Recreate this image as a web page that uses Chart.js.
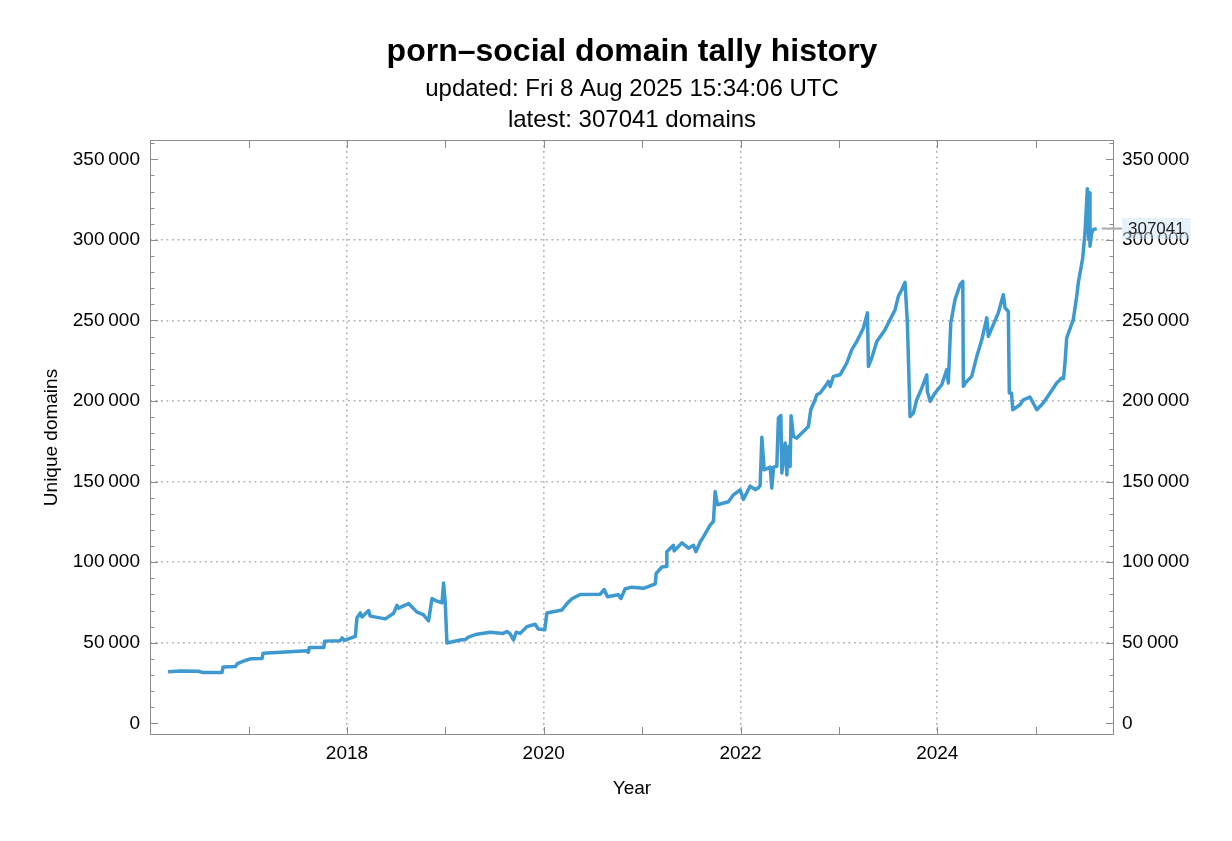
<!DOCTYPE html>
<html>
<head>
<meta charset="utf-8">
<title>porn–social domain tally history</title>
<script src="https://cdn.jsdelivr.net/npm/chart.js@4.4.1/dist/chart.umd.min.js"></script>
<style>
  html, body { margin: 0; padding: 0; background: #fff; }
  canvas { display: block; }
</style>
</head>
<body>
<canvas id="tally" width="1232" height="841"></canvas>
<script>
// decimal year of each sample
const years = [
  2016.182, 2016.307, 2016.490, 2016.530, 2016.730, 2016.741, 2016.866, 2016.886, 2016.967, 2017.018,
  2017.137, 2017.147, 2017.374, 2017.594, 2017.607, 2017.617, 2017.765, 2017.773, 2017.932, 2017.950,
  2017.973, 2018.085, 2018.102, 2018.136, 2018.153, 2018.220, 2018.237, 2018.390, 2018.474, 2018.508,
  2018.525, 2018.626, 2018.712, 2018.776, 2018.829, 2018.864, 2018.915, 2018.966, 2018.982, 2018.999,
  2019.016, 2019.151, 2019.202, 2019.233, 2019.321, 2019.456, 2019.588, 2019.626, 2019.659, 2019.693,
  2019.720, 2019.761, 2019.829, 2019.913, 2019.944, 2020.010, 2020.032, 2020.185, 2020.236, 2020.286,
  2020.371, 2020.574, 2020.614, 2020.648, 2020.760, 2020.784, 2020.828, 2020.896, 2021.014, 2021.133,
  2021.143, 2021.201, 2021.244, 2021.251, 2021.318, 2021.326, 2021.404, 2021.471, 2021.522, 2021.546,
  2021.590, 2021.623, 2021.691, 2021.725, 2021.742, 2021.765, 2021.877, 2021.928, 2021.996, 2022.030,
  2022.098, 2022.149, 2022.179, 2022.199, 2022.217, 2022.240, 2022.301, 2022.318, 2022.336, 2022.369,
  2022.385, 2022.410, 2022.420, 2022.453, 2022.471, 2022.487, 2022.504, 2022.514, 2022.538, 2022.572,
  2022.639, 2022.690, 2022.714, 2022.758, 2022.775, 2022.809, 2022.860, 2022.893, 2022.911, 2022.944,
  2023.012, 2023.080, 2023.131, 2023.182, 2023.249, 2023.290, 2023.300, 2023.334, 2023.385, 2023.469,
  2023.571, 2023.604, 2023.639, 2023.672, 2023.696, 2023.723, 2023.757, 2023.791, 2023.842, 2023.893,
  2023.899, 2023.927, 2023.977, 2024.045, 2024.096, 2024.112, 2024.137, 2024.180, 2024.231, 2024.259,
  2024.265, 2024.299, 2024.350, 2024.401, 2024.452, 2024.503, 2024.519, 2024.570, 2024.620, 2024.671,
  2024.689, 2024.722, 2024.732, 2024.754, 2024.767, 2024.841, 2024.874, 2024.942, 2025.011, 2025.077,
  2025.146, 2025.214, 2025.264, 2025.283, 2025.298, 2025.315, 2025.382, 2025.417, 2025.433, 2025.478,
  2025.501, 2025.525, 2025.539, 2025.545, 2025.552, 2025.569, 2025.586, 2025.620
];

// unique domains at each sample
const domains = [
  32000, 32500, 32300, 31600, 31500, 35000, 35200, 37000, 39000, 40000,
  40200, 43500, 44200, 45000, 44000, 47000, 47000, 51000, 51300, 53000,
  51500, 54000, 65500, 68500, 66000, 70000, 66500, 64800, 68300, 73200,
  71500, 74300, 69000, 67500, 63500, 77500, 75800, 74800, 87000, 74500,
  49800, 51700, 52000, 53500, 55300, 56500, 55800, 57000, 55500, 51700,
  56500, 55800, 60000, 61500, 58500, 58000, 68500, 70300, 74300, 77300,
  79900, 80100, 83000, 78500, 79800, 77500, 83500, 84500, 83800, 86500,
  93000, 97000, 97300, 106500, 110500, 107000, 112000, 108700, 110500, 106500,
  112500, 115700, 123000, 125400, 143900, 135600, 137500, 141800, 144900, 139000,
  147200, 145000, 146000, 147500, 177500, 157300, 159000, 146000, 159000, 159500,
  189500, 191000, 155300, 173900, 154200, 171800, 159400, 190900, 178000, 177000,
  181100, 184200, 194600, 200800, 203900, 205000, 209100, 212200, 209000, 215300,
  216300, 223600, 231900, 237000, 245300, 254700, 221500, 226700, 237000, 244300,
  256700, 265000, 269100, 273700, 248400, 190400, 192500, 200800, 208000, 216300,
  206000, 199800, 205000, 210100, 219400, 211200, 248400, 262900, 272200, 274300,
  209100, 212200, 215300, 227700, 238000, 251600, 240100, 247400, 254700, 266000,
  257800, 255600, 205000, 205000, 194600, 197700, 200800, 202500, 194600, 198800,
  205000, 211200, 214300, 214000, 223600, 239100, 250500, 265000, 273300, 288800,
  304300, 331700, 300200, 329200, 296000, 304300, 306400, 307041
];

const yearTicks = [2017, 2018, 2019, 2020, 2021, 2022, 2023, 2024, 2025];
const yearLabels = [2018, 2020, 2022, 2024];
const domainTicks = [0, 50000, 100000, 150000, 200000, 250000, 300000, 350000];

const LINE = "#3d99cf";
const FRAME = "#8c8c8c";
const GRID = "#b0b0b0";
const NONE = "rgba(0,0,0,0)";

Chart.defaults.font.family = "'Liberation Sans', Arial, sans-serif";
Chart.defaults.color = "#000";

function fmtThousands(v) {
  if (v < 1000) return String(v);
  return Math.floor(v / 1000) + "\u2009" + String(v % 1000).padStart(3, "0");
}

// Mathematica-like frame: box round the plot, ticks pointing inward, callout for the last value
const frameTicks = {
  id: "frameTicks",
  afterDraw(chart) {
    const { ctx, chartArea: a, scales } = chart;
    const xs = scales.x, ys = scales.y;
    ctx.save();
    ctx.strokeStyle = FRAME;
    ctx.lineWidth = 1;
    ctx.strokeRect(a.left + 0.5, a.top + 0.5, a.width - 1, a.height - 1);

    ctx.beginPath();
    yearTicks.forEach(v => {
      const px = Math.round(xs.getPixelForValue(v)) + 0.5;
      ctx.moveTo(px, a.bottom); ctx.lineTo(px, a.bottom - 8);
      ctx.moveTo(px, a.top); ctx.lineTo(px, a.top + 8);
    });
    for (let v = 0; v <= ys.max; v += 10000) {
      const len = v % 50000 === 0 ? 8 : 4.5;
      const py = Math.round(ys.getPixelForValue(v)) + 0.5;
      ctx.moveTo(a.left, py); ctx.lineTo(a.left + len, py);
      ctx.moveTo(a.right, py); ctx.lineTo(a.right - len, py);
    }
    ctx.stroke();

    // latest value callout
    const meta = chart.getDatasetMeta(0);
    const last = meta.data[meta.data.length - 1];
    const label = String(domains[domains.length - 1]);
    ctx.font = "17px 'Liberation Sans', Arial, sans-serif";
    const w = ctx.measureText(label).width + 12;
    const h = 21;
    const bx = a.right + 8;
    ctx.fillStyle = "rgba(205,228,250,0.5)";
    ctx.fillRect(bx, last.y - h / 2, w, h);
    ctx.strokeStyle = "#a8a8a8";
    ctx.lineWidth = 2;
    ctx.beginPath();
    ctx.moveTo(last.x + 5, last.y);
    ctx.lineTo(bx, last.y);
    ctx.stroke();
    ctx.fillStyle = "#222";
    ctx.textAlign = "left";
    ctx.textBaseline = "middle";
    ctx.fillText(label, bx + 6, last.y + 1);
    ctx.restore();
  }
};

new Chart(document.getElementById("tally"), {
  type: "line",
  data: {
    datasets: [{
      label: "Unique domains",
      data: years.map((yr, i) => ({ x: yr, y: domains[i] })),
      borderColor: LINE,
      borderWidth: 3.5,
      borderJoinStyle: "round",
      pointRadius: 0,
      tension: 0,
      fill: false
    }]
  },
  options: {
    responsive: false,
    animation: false,
    layout: { padding: 0 },
    plugins: {
      legend: { display: false },
      tooltip: { enabled: false },
      title: {
        display: true,
        fullSize: false,
        text: "porn–social domain tally history",
        font: { size: 32, weight: "bold", lineHeight: 1.2 },
        color: "#000",
        padding: { top: 32.8, bottom: 2.6 }
      },
      subtitle: {
        display: true,
        fullSize: false,
        text: ["updated: Fri 8 Aug 2025 15:34:06 UTC", "latest: 307041 domains"],
        font: { size: 24, lineHeight: 1.2917 },
        color: "#000",
        padding: { top: 0, bottom: 4.2 }
      }
    },
    scales: {
      x: {
        type: "linear",
        position: "bottom",
        bounds: "data",
        min: 2015.998,
        max: 2025.796,
        afterBuildTicks: s => { s.ticks = yearTicks.map(v => ({ value: v })); },
        afterFit: s => { s.height = 106; },
        ticks: {
          autoSkip: false,
          maxRotation: 0,
          padding: 7,
          font: { size: 19 },
          color: "#000",
          callback: v => (yearLabels.includes(v) ? String(v) : "")
        },
        grid: {
          drawTicks: false,
          lineWidth: 1.6,
          color: c => (c.tick && c.tick.value % 2 === 0 ? GRID : NONE)
        },
        border: { display: false, dash: [1.8, 3.7] },
        title: {
          display: true,
          text: "Year",
          font: { size: 19 },
          color: "#000",
          padding: { top: 0, bottom: 40.5 }
        }
      },
      y: {
        type: "linear",
        position: "left",
        bounds: "data",
        min: -7260,
        max: 362000,
        afterBuildTicks: s => { s.ticks = domainTicks.map(v => ({ value: v })); },
        afterFit: s => { s.width = 150; },
        ticks: { padding: 10, font: { size: 19 }, color: "#000", callback: v => fmtThousands(v) },
        grid: {
          drawTicks: false,
          lineWidth: 1.6,
          color: c => (c.tick && c.tick.value > 0 && c.tick.value < 350000 ? GRID : NONE)
        },
        border: { display: false, dash: [1.8, 3.7] },
        title: {
          display: true,
          text: "Unique domains",
          font: { size: 19 },
          color: "#000",
          padding: { top: 40.6, bottom: 0 }
        }
      },
      y2: {
        type: "linear",
        position: "right",
        bounds: "data",
        min: -7260,
        max: 362000,
        afterBuildTicks: s => { s.ticks = domainTicks.map(v => ({ value: v })); },
        afterFit: s => { s.width = 118; },
        ticks: { padding: 8, font: { size: 19 }, color: "#000", callback: v => fmtThousands(v) },
        grid: { display: false, drawTicks: false },
        border: { display: false }
      }
    }
  },
  plugins: [frameTicks]
});
</script>
</body>
</html>
